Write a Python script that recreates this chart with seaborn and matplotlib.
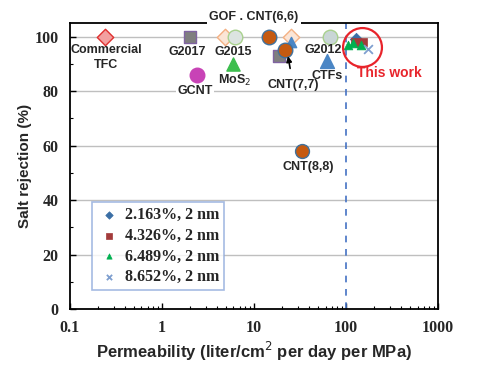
import numpy as np
import pandas as pd
import matplotlib
matplotlib.use("Agg")
import matplotlib.pyplot as plt
import seaborn as sns
from matplotlib.ticker import LogLocator, FixedLocator, NullFormatter

# ---------------- data ----------------
# literature points (permeability, salt rejection)
lit_names = ["Commercial TFC", "G2017", "G2015 a", "G2015 b", "GCNT", "MoS2",
             "GOF", "CNT(6,6)", "CNT(6,6) tri", "CNT(7,7) sq", "CNT(7,7)",
             "G2012", "CTFs", "CNT(8,8)"]
lit_x = [0.24, 2.0, 4.8, 6.2, 2.4, 5.9, 14.5, 25.0, 25.0, 18.6, 21.7, 67.0, 63.0, 33.0]
lit_y = [100, 100, 100, 100, 86, 90, 100, 100, 98, 93, 95, 100, 91, 58]
lit_marker = ["D", "s", "D", "o", "o", "^", "o", "D", "^", "s", "o", "o", "^", "o"]
lit_face = ["#F2A0A0", "#7F7F7F", "#FBE5D6", "#DCE4E0", "#C843B6", "#3DBE4E",
            "#C55A11", "#FBE5D6", "#4A86C5", "#7F7F7F", "#C55A11",
            "#C9D6D6", "#4A86C5", "#C55A11"]
lit_edge = ["#E0302F", "#8064A2", "#F4B183", "#A9D18E", "#C843B6", "#3DBE4E",
            "#41719C", "#F4B183", "#4A86C5", "#8064A2", "#41719C",
            "#A9D18E", "#4A86C5", "#41719C"]
lit_size = [70, 85, 70, 110, 110, 90, 110, 70, 55, 85, 110, 110, 100, 100]

# this work
tw_labels = ["2.163%, 2 nm", "4.326%, 2 nm", "6.489%, 2 nm", "8.652%, 2 nm"]
tw_x = [[130], [125, 140, 155], [105, 120, 145], [175]]
tw_y = [[99], [98, 97.5, 98], [97, 97.5, 97], [95.5]]
tw_marker = ["D", "s", "^", "x"]
tw_color = ["#3A6EA5", "#A33B3B", "#00B050", "#7F9FCF"]

# annotation labels
ann_text = ["Commercial\nTFC", "G2017", "G2015", "MoS$_2$", "GCNT", "G2012", "CTFs",
            "CNT(8,8)"]
ann_x = [0.25, 1.9, 5.9, 6.2, 2.3, 56, 63, 38.6]
ann_y = [92.3, 94.5, 94.5, 84.0, 80.0, 95.0, 85.5, 52.0]

xticks = [0.1, 1, 10, 100, 1000]
xticklabels = ["0.1", "1", "10", "100", "1000"]
yticks = [0, 20, 40, 60, 80, 100]

# ---------------- plot ----------------
sns.set_theme(style="white")
plt.rcParams["font.family"] = ["Liberation Sans", "DejaVu Sans"]

fig = plt.figure(figsize=(4.85, 3.82), dpi=100)
ax = fig.add_axes([0.144, 0.191, 0.759, 0.749])

for yv in yticks[1:]:
    ax.axhline(yv, color="#BFBFBF", lw=1.0, zorder=0)

ax.axvline(100, color="#4472C4", lw=1.2, ls=(0, (4, 4)), zorder=1)

for i in range(len(lit_x)):
    sns.scatterplot(x=[lit_x[i]], y=[lit_y[i]], marker=lit_marker[i], s=lit_size[i],
                    color=lit_face[i], edgecolor=lit_edge[i], linewidth=1.0,
                    ax=ax, zorder=3, legend=False)

for i in range(len(tw_labels)):
    df = pd.DataFrame({"x": tw_x[i], "y": tw_y[i]})
    if tw_marker[i] == "x":
        sns.scatterplot(data=df, x="x", y="y", marker="x", s=40, color=tw_color[i],
                        linewidth=1.3, ax=ax, zorder=4, label=tw_labels[i])
    else:
        sns.scatterplot(data=df, x="x", y="y", marker=tw_marker[i], s=40,
                        color=tw_color[i], edgecolor=tw_color[i], linewidth=0.5,
                        ax=ax, zorder=4, label=tw_labels[i])

# red circle around "this work"
ax.plot([148], [96.3], marker="o", ms=28, mfc="none", mec="#E8242B", mew=1.6,
        zorder=5, clip_on=False)
ax.text(293, 86.8, "This work", color="#E8242B", fontsize=10, fontweight="bold",
        ha="center", va="center")

for t, xv, yv in zip(ann_text, ann_x, ann_y):
    kw = {}
    if t == "GCNT":
        kw["bbox"] = dict(facecolor="white", edgecolor="none", pad=1)
    ax.text(xv, yv, t, fontsize=9, fontweight="bold", color="#262626",
            ha="center", va="center", linespacing=1.3, **kw)

ax.text(10, 107, "GOF . CNT(6,6)", fontsize=9, fontweight="bold", color="#262626",
        ha="center", va="center", clip_on=False,
        bbox=dict(facecolor="white", edgecolor="none", pad=1.5), zorder=6)

ax.annotate("CNT(7,7)", xy=(23.5, 92.8), xytext=(26.5, 82.4),
            fontsize=9, fontweight="bold", color="#262626", ha="center", va="center",
            arrowprops=dict(arrowstyle="-|>", color="black", lw=1.2,
                            shrinkA=5, shrinkB=0, mutation_scale=8))

ax.set_xscale("log")
ax.set_xlim(0.1, 1000)
ax.set_ylim(0, 105)
ax.set_xticks(xticks)
ax.set_xticklabels(xticklabels)
ax.xaxis.set_minor_locator(LogLocator(base=10, subs=np.arange(2, 10)))
ax.xaxis.set_minor_formatter(NullFormatter())
ax.set_yticks(yticks)
ax.yaxis.set_minor_locator(FixedLocator([10, 30, 50, 70, 90]))

ax.tick_params(axis="both", which="major", direction="in", length=4, width=1,
               color="black", labelsize=11.5, pad=8)
ax.tick_params(axis="both", which="minor", direction="in", length=2.5, width=0.8,
               color="black")
ax.tick_params(axis="x", which="both", bottom=True, top=False)
ax.tick_params(axis="y", which="both", left=True, right=False)
for lab in ax.get_xticklabels() + ax.get_yticklabels():
    lab.set_fontfamily(["Liberation Serif", "DejaVu Serif"])
    lab.set_fontweight("bold")

for s in ax.spines.values():
    s.set_color("black")
    s.set_linewidth(1.3)

ax.set_xlabel("Permeability (liter/cm$^2$ per day per MPa)", fontsize=12,
              fontweight="bold", color="#262626", labelpad=3)
ax.set_ylabel("Salt rejection (%)", fontsize=11, fontweight="bold",
              color="#262626", labelpad=2)

leg = ax.legend(loc="lower left", bbox_to_anchor=(0.06, 0.066), borderaxespad=0,
                frameon=True, fancybox=False, edgecolor="#8FAADC", handletextpad=0.15,
                borderpad=0.3, labelspacing=0.3, handlelength=1.6, markerscale=0.6,
                prop={"family": ["Liberation Serif"], "weight": "bold", "size": 11.5})
leg.get_frame().set_linewidth(1.2)

fig.savefig("out.png", dpi=100)
